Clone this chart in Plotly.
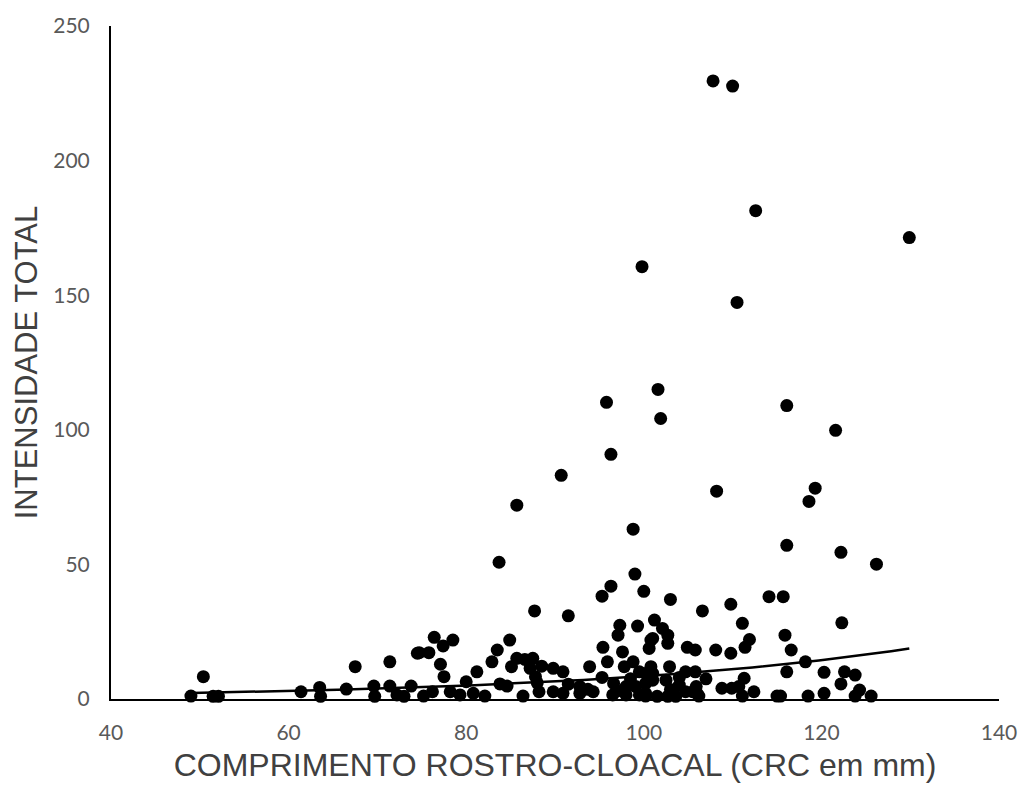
import numpy as np
import plotly.graph_objects as go

# Comprimento rostro-cloacal (mm)
crc_mm = [
    107.8, 110.0, 112.6, 129.9, 99.8, 110.5, 101.6, 95.8, 101.9, 116.1, 96.3, 121.6,
    90.7, 108.2, 119.3, 118.6, 85.7, 98.8, 116.1, 122.2, 83.7, 126.2,
    87.7, 91.5, 95.3, 96.3, 99.0, 100.0, 97.3, 97.1, 99.3, 101.2, 103.0, 106.6,
    109.8, 114.1, 115.7, 122.3, 111.1, 102.1, 102.7, 101.0, 100.6, 102.7, 104.9,
    105.8, 108.1, 109.8, 111.4, 111.9, 115.9, 116.6, 118.2, 116.1, 120.3, 122.2,
    122.6, 123.8, 124.3, 123.8, 125.6, 120.3, 118.5, 115.0, 115.4, 112.4, 111.3,
    108.8, 109.9, 110.7, 111.1, 104.7, 105.8, 105.9, 106.0, 106.2, 102.9, 101.5,
    102.7, 103.6, 104.7, 105.5, 100.2, 100.2, 104.0, 102.5, 101.0,
    50.4, 49.0, 51.5, 52.1, 61.4, 63.5, 63.6, 66.5, 67.5, 69.6, 69.7, 71.4, 71.4,
    72.2, 73.0, 73.8, 74.5,
    76.4, 74.7, 75.8, 77.4, 78.5, 77.1, 77.5, 75.2, 76.2, 78.2, 79.3, 80.0, 81.2,
    80.8, 82.1, 82.9, 83.5, 84.9, 83.8, 84.6, 85.1, 85.7, 86.6, 87.5, 87.2, 88.5,
    89.8, 90.9, 87.8, 88.2, 86.4, 89.8, 90.9, 92.8, 93.7, 93.9, 95.4, 95.9, 95.3,
    96.6, 97.8, 97.6, 98.8, 99.5, 100.2, 98.0, 99.1, 98.0, 99.5, 100.2, 100.8,
    100.8, 101.0, 92.8, 94.3,
    88.0, 91.5, 96.5, 97.0, 98.5, 103.0, 104.0, 107.0,
]

# Intensidade total
intensidade = [
    229.6, 227.7, 181.4, 171.4, 160.6, 147.3, 115.0, 110.2, 104.2, 109.0, 90.9, 99.8,
    83.1, 77.2, 78.3, 73.4, 72.0, 63.1, 57.1, 54.5, 50.8, 50.1,
    32.7, 30.9, 38.2, 41.9, 46.4, 40.0, 27.4, 23.7, 27.1, 29.3, 37.0, 32.7,
    35.2, 38.0, 38.0, 28.3, 28.1, 26.2, 23.7, 22.5, 18.8, 20.7, 19.2,
    18.2, 18.2, 17.0, 19.2, 22.1, 23.7, 18.2, 13.8, 10.1, 9.9, 5.6,
    10.1, 8.9, 3.3, 1.1, 1.1, 2.1, 1.1, 1.1, 1.1, 2.7, 7.7,
    4.0, 4.0, 4.6, 1.1, 10.1, 10.1, 4.6, 2.1, 1.1, 12.0, 1.0,
    1.0, 1.0, 2.7, 2.7, 5.8, 2.1, 5.2, 7.0, 9.5,
    8.3, 1.1, 1.0, 1.0, 2.7, 4.3, 1.0, 3.7, 12.0, 4.8, 1.0, 13.8, 4.8,
    1.5, 1.0, 4.8, 17.0,
    22.9, 17.2, 17.2, 19.7, 21.9, 12.9, 8.3, 1.1, 2.7, 2.7, 1.5, 6.4, 10.1,
    2.1, 1.1, 13.8, 18.2, 21.9, 5.6, 4.8, 12.0, 15.1, 14.7, 15.1, 11.4, 12.2,
    11.4, 10.1, 8.3, 2.7, 1.1, 2.7, 2.1, 4.6, 3.6, 12.0, 19.2, 13.8, 8.0,
    5.8, 12.0, 17.5, 13.8, 10.1, 9.5, 4.6, 4.6, 1.5, 1.5, 1.1, 21.9,
    12.0, 7.0, 2.1, 2.7,
    6.0, 5.5, 1.5, 3.0, 7.5, 3.5, 8.0, 7.5,
]

x_ticks = [40, 60, 80, 100, 120, 140]
y_ticks = [0, 50, 100, 150, 200, 250]

# Exponential trendline: y = A * exp(B * x)
trend_a = 0.6
trend_b = 0.0265

x_arr = np.array(crc_mm)
x_trend = np.linspace(x_arr.min(), x_arr.max(), 120)
y_trend = trend_a * np.exp(trend_b * x_trend)

fig = go.Figure()
fig.add_trace(go.Scatter(
    x=crc_mm, y=intensidade, mode="markers",
    marker=dict(color="black", size=13, line=dict(width=0)),
    cliponaxis=False, showlegend=False,
))
fig.add_trace(go.Scatter(
    x=x_trend, y=y_trend, mode="lines",
    line=dict(color="black", width=2.5),
    cliponaxis=False, showlegend=False,
))

tick_font = dict(family="Lato, 'Liberation Sans', sans-serif", size=21, color="#595959")
x_title_font = dict(family="'Liberation Sans', Arial, sans-serif", size=32, color="#404040")
y_title_font = dict(family="'Liberation Sans', Arial, sans-serif", size=31, color="#404040")

fig.update_layout(
    width=1029, height=789,
    margin=dict(l=111, r=22, t=25, b=90),
    paper_bgcolor="white", plot_bgcolor="white",
    xaxis=dict(
        range=[40, 140], tickvals=x_ticks, ticktext=[str(v) for v in x_ticks],
        showgrid=False, zeroline=False, showline=True, linecolor="black", linewidth=2,
        ticks="", tickfont=tick_font, ticklabelstandoff=14,
        title=dict(text="COMPRIMENTO ROSTRO-CLOACAL (CRC em mm)", font=x_title_font, standoff=10),
    ),
    yaxis=dict(
        range=[0, 250], tickvals=y_ticks, ticktext=[str(v) for v in y_ticks],
        showgrid=False, zeroline=False, showline=True, linecolor="black", linewidth=2,
        ticks="", tickfont=tick_font, ticklabelstandoff=15,
        title=dict(text="INTENSIDADE TOTAL", font=y_title_font, standoff=6),
    ),
)

fig.write_html("out.html")
